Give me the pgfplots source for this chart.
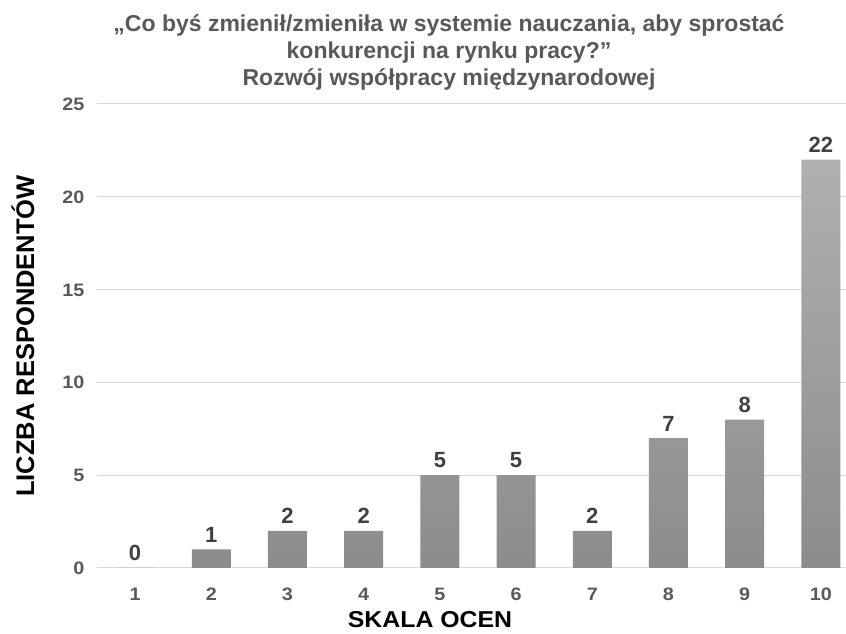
\documentclass[border=0pt]{standalone}
\usepackage{pgfplots}
\pgfplotsset{compat=1.18}
\usepackage{fontspec}
\setmainfont{Liberation Sans}
\newfontfamily\xlabfont[FakeStretch=1.08]{Liberation Sans Bold}
\newfontfamily\tickfont[FakeStretch=1.1]{Liberation Sans Bold}
\definecolor{ticktxt}{HTML}{595959}
\definecolor{lbltxt}{HTML}{404040}
\definecolor{gridc}{HTML}{D9D9D9}
\definecolor{bartop}{HTML}{B0B0B0}
\definecolor{barbot}{HTML}{8C8C8C}
\begin{document}
\begin{tikzpicture}
\begin{axis}[
  scale only axis,
  width=749bp, height=464bp,
  xmin=0.5, xmax=10.33,
  ymin=0, ymax=25,
  xtick={1,...,10},
  ytick={0,5,...,25},
  ymajorgrids,
  grid style={draw=gridc, line width=1bp},
  axis line style={draw=none},
  major tick style={draw=none},
  /pgf/number format/assume math mode=true,
  ticklabel style={font=\tickfont\fontsize{18bp}{20bp}\selectfont, text=ticktxt, text height=13bp, text depth=0bp},
  yticklabel style={xshift=-9bp},
  xticklabel style={yshift=-16bp},
  xlabel={SKALA OCEN},
  ylabel={LICZBA RESPONDENTÓW},
  xlabel style={font=\xlabfont\fontsize{23bp}{26bp}\selectfont, at={(axis description cs:0.4446,-0.1283)}, anchor=base, inner sep=0pt, text depth=0pt},
  ylabel style={font=\fontsize{25.5bp}{28bp}\selectfont\bfseries, at={(axis description cs:-0.0841,0.5)}, anchor=base},
  title={„Co byś zmienił/zmieniła w systemie nauczania, aby sprostać\\[2bp]konkurencji na rynku pracy?”\\[2bp]Rozwój współpracy międzynarodowej},
  title style={font=\fontsize{23bp}{25bp}\selectfont\bfseries, text=ticktxt, align=center, at={(axis description cs:0.47,1.0975)}, anchor=center},
  nodes near coords,
  every node near coord/.append style={font=\fontsize{22bp}{24bp}\selectfont\bfseries, text=lbltxt, yshift=3.5bp},
]
\addplot[ybar, bar width=39bp, draw=none, top color=bartop, bottom color=barbot]
  coordinates {(1,0) (2,1) (3,2) (4,2) (5,5) (6,5) (7,2) (8,7) (9,8) (10,22)};
\end{axis}
\pgfresetboundingbox
\path ([xshift=-97bp,yshift=-66bp]current axis.south west) rectangle ([yshift=104bp]current axis.north east);
\end{tikzpicture}
\end{document}
